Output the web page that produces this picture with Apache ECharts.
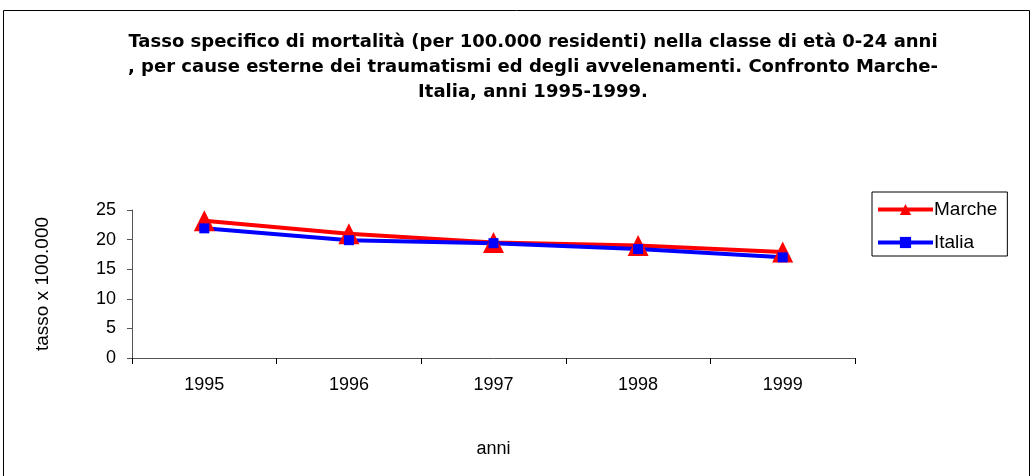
<!DOCTYPE html>
<html>
<head>
<meta charset="utf-8">
<script src="https://cdn.jsdelivr.net/npm/echarts@6/dist/echarts.min.js"></script>
<style>
html,body{margin:0;padding:0;background:#fff;}
#c{width:1032px;height:476px;}
</style>
</head>
<body>
<div id="c"></div>
<script>
const categories = ['1995', '1996', '1997', '1998', '1999'];
const marche = [23.2, 21.0, 19.5, 19.0, 17.9];
const italia = [21.9, 19.9, 19.4, 18.4, 17.0];
const yTicks = [0, 5, 10, 15, 20, 25];

const FONT = '"Liberation Sans", Arial, sans-serif';
const chart = echarts.init(document.getElementById('c'));
chart.setOption({
  backgroundColor: '#fff',
  animation: false,
  graphic: [{
    type: 'rect', z: -1,
    shape: {x: 3.5, y: 10.5, width: 1026, height: 480},
    style: {fill: 'none', stroke: '#000', lineWidth: 1}
  }],
  title: {
    text: 'Tasso specifico di mortalità (per 100.000 residenti) nella classe di età 0-24 anni\n, per cause esterne dei traumatismi ed degli avvelenamenti. Confronto Marche-\nItalia, anni 1995-1999.',
    left: 528, top: 25, textAlign: 'center',
    textStyle: {fontFamily: '"DejaVu Sans", sans-serif', fontWeight: 'bold', fontSize: 18, lineHeight: 25, color: '#000'}
  },
  legend: {
    left: 872, top: 192, orient: 'vertical',
    itemWidth: 55, itemHeight: 14, itemGap: 14,
    padding: [8, 10, 4, 4],
    borderColor: '#000', borderWidth: 1,
    lineStyle: {width: 4},
    textStyle: {fontFamily: FONT, fontSize: 19, color: '#000', padding: [0, 0, 0, -4]},
    data: ['Marche', 'Italia']
  },
  grid: {left: 132, right: 177, top: 210, bottom: 118},
  xAxis: {
    type: 'category', data: categories, boundaryGap: true,
    name: 'anni', nameLocation: 'middle', nameGap: 82,
    nameTextStyle: {fontFamily: FONT, fontSize: 18, color: '#000'},
    axisLine: {lineStyle: {color: '#555', width: 1}},
    axisTick: {show: true, alignWithLabel: false, length: 6, lineStyle: {color: '#000'}},
    axisLabel: {fontFamily: FONT, fontSize: 18, color: '#000', margin: 18}
  },
  yAxis: {
    type: 'value', min: 0, max: 25, interval: 5,
    name: 'tasso x 100.000', nameLocation: 'middle', nameGap: 80, nameRotate: 90,
    nameTextStyle: {fontFamily: FONT, fontSize: 19, color: '#000'},
    axisLine: {show: true, lineStyle: {color: '#555', width: 1}},
    axisTick: {show: true, length: 5, lineStyle: {color: '#555'}},
    splitLine: {show: false},
    axisLabel: {fontFamily: FONT, fontSize: 18, color: '#000', margin: 16,
      formatter: v => yTicks.includes(v) ? String(v) : ''}
  },
  series: [
    {
      name: 'Marche', type: 'line', data: marche,
      symbol: 'triangle', symbolSize: 21,
      lineStyle: {color: '#ff0000', width: 4},
      itemStyle: {color: '#ff0000'}
    },
    {
      name: 'Italia', type: 'line', data: italia,
      symbol: 'rect', symbolSize: 10,
      lineStyle: {color: '#0000ff', width: 4},
      itemStyle: {color: '#0000ff'}
    }
  ]
});
</script>
</body>
</html>
